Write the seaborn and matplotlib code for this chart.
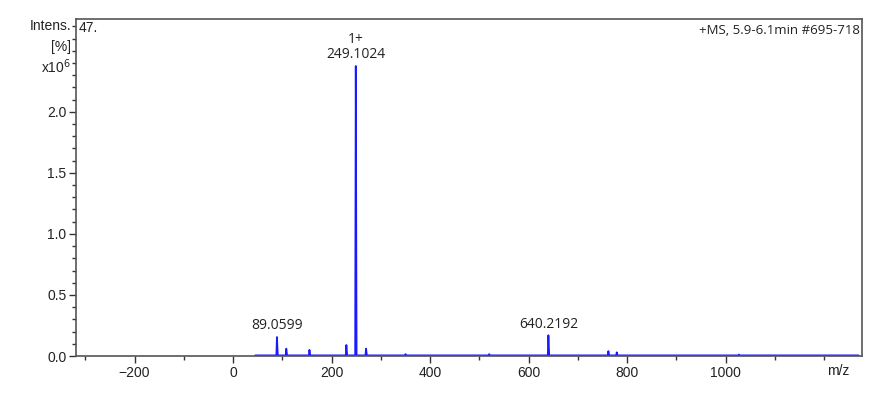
import numpy as np
import pandas as pd
import seaborn as sns
import matplotlib.pyplot as plt
from matplotlib.ticker import MultipleLocator, FixedLocator

# peak list (m/z, intensity x10^6)
peak_mz = [89.06, 108.0, 155.0, 230.0, 249.1024, 270.0, 350.0, 520.0, 640.2192, 762.0, 779.0, 1027.0]
peak_int = [0.155, 0.06, 0.05, 0.09, 2.375, 0.06, 0.015, 0.015, 0.17, 0.04, 0.03, 0.012]
labels = {89.06: '89.0599', 249.1024: '1+\n249.1024', 640.2192: '640.2192'}
mz_start, mz_end = 45, 1270

# profile spectrum: baseline with narrow peaks
xs, ys = [mz_start], [0.005]
for m, h in zip(peak_mz, peak_int):
    xs += [m - 1.2, m, m + 1.6]
    ys += [0.005, h, 0.005]
xs.append(mz_end)
ys.append(0.005)
df = pd.DataFrame({'mz': xs, 'intens': ys})

sns.set_style('white')
plt.rcParams['font.family'] = ['Liberation Sans', 'DejaVu Sans']

fig = plt.figure(figsize=(8.8, 3.98), dpi=100)
ax = fig.add_axes([76 / 880, 1 - 356 / 398, (862 - 76) / 880, (356 - 19) / 398])
sns.lineplot(data=df, x='mz', y='intens', sort=False, estimator=None, color='#1a1aff', lw=1.3, ax=ax)

ax.set_xlim(-319, 1277)
ax.set_ylim(0, 2.76)
ax.set_xlabel('')
ax.set_ylabel('')
ax.xaxis.set_major_locator(FixedLocator([-200, 0, 200, 400, 600, 800, 1000]))
ax.xaxis.set_minor_locator(FixedLocator(list(range(-300, 1300, 100))))
ax.yaxis.set_major_locator(FixedLocator([0, 0.5, 1.0, 1.5, 2.0]))
ax.yaxis.set_minor_locator(FixedLocator([i / 10 for i in range(0, 28)]))
ax.set_yticklabels(['0.0', '0.5', '1.0', '1.5', '2.0'])
ax.tick_params(axis='both', which='major', direction='out', length=5, width=1, color='#333333',
               labelsize=10, labelcolor='#222222', pad=2, bottom=True, left=True)
ax.tick_params(axis='both', which='minor', direction='out', length=3, width=1, color='#333333',
               bottom=True, left=True)
for s in ax.spines.values():
    s.set_color('#555555')
    s.set_linewidth(1.2)

# y axis header labels
ax.text(-0.006, 2.7, 'Intens.', transform=ax.get_yaxis_transform(), ha='right', va='center',
        fontsize=10, color='#222222')
ax.text(-0.006, 2.53, '[%]', transform=ax.get_yaxis_transform(), ha='right', va='center',
        fontsize=10, color='#222222')
ax.text(-0.006, 2.37, r'x10$^6$', transform=ax.get_yaxis_transform(), ha='right', va='center',
        fontsize=10, color='#222222')
ax.text(0.003, 2.69, '47.', transform=ax.get_yaxis_transform(), ha='left', va='center',
        fontsize=10, color='#222222')
ax.text(0.997, 0.985, '+MS, 5.9-6.1min #695-718', transform=ax.transAxes, ha='right', va='top',
        fontsize=9.5, color='#222222', family=['Open Sans', 'DejaVu Sans'])
ax.text(1228, -0.065, 'm/z', ha='center', va='top', fontsize=10, color='#222222')

for m, h in zip(peak_mz, peak_int):
    if m in labels:
        ax.text(m, h + 0.03, labels[m], ha='center', va='bottom', fontsize=10, color='#222222',
                family=['Open Sans', 'DejaVu Sans'], linespacing=1.0)

fig.savefig('out.png', dpi=100)
